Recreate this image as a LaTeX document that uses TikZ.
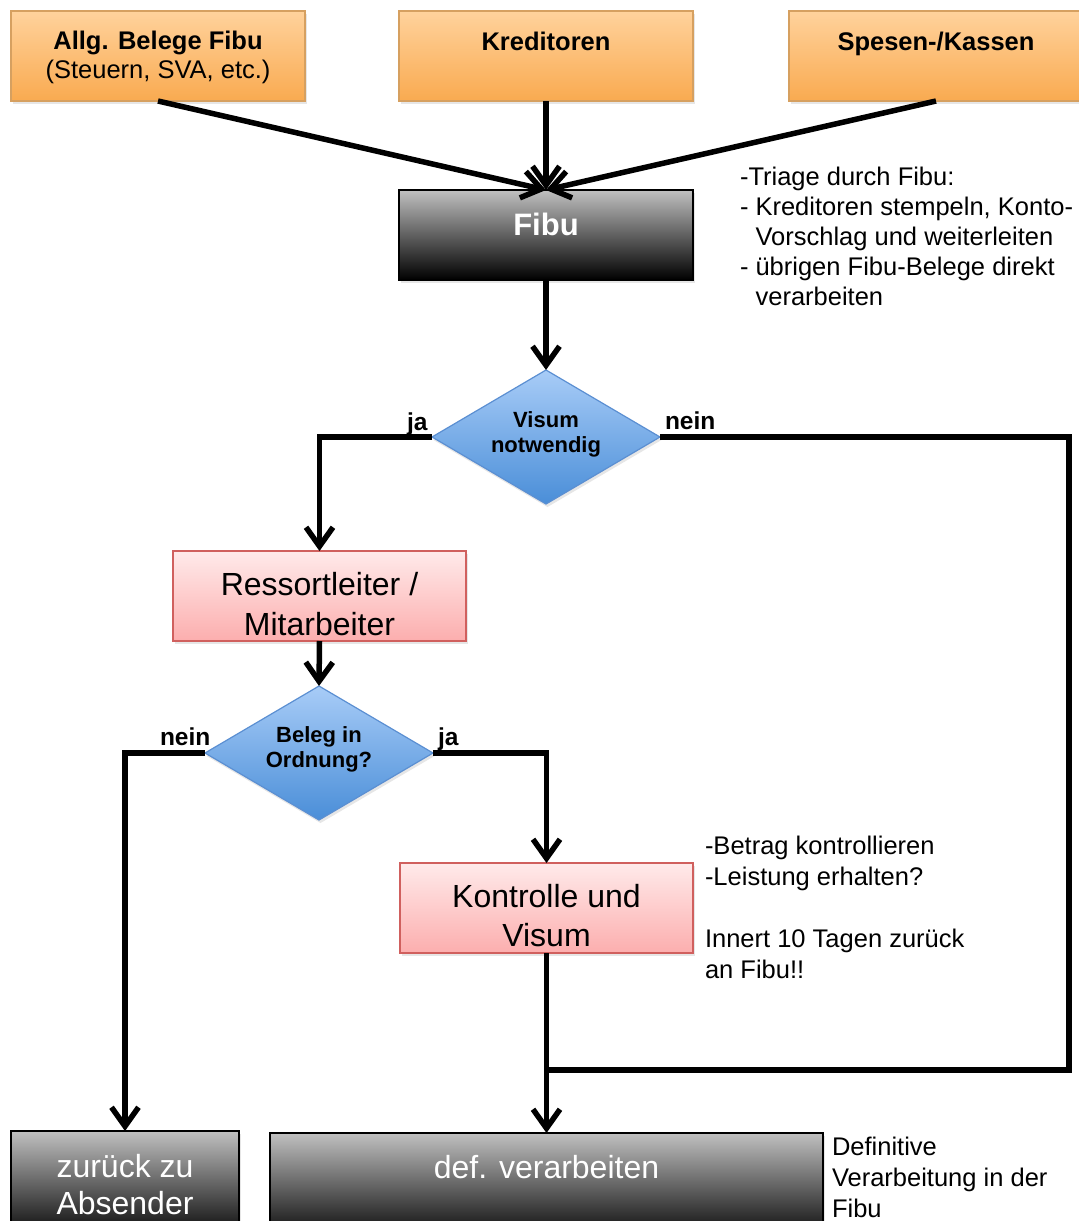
\documentclass[tikz,border=0pt]{standalone}
\usepackage{fontspec}
\setmainfont{Liberation Sans}
\usetikzlibrary{arrows.meta,shapes.geometric,shadows}
\definecolor{orT}{HTML}{FFD29C}
\definecolor{orB}{HTML}{F9AA50}
\definecolor{orD}{HTML}{D6A060}
\definecolor{pkT}{HTML}{FFEAEA}
\definecolor{pkB}{HTML}{FCAEAE}
\definecolor{pkD}{HTML}{D0605E}
\definecolor{blT}{HTML}{A8CCF7}
\definecolor{blB}{HTML}{4A8ED8}
\definecolor{blD}{HTML}{5B8FD2}
\definecolor{gyT}{HTML}{C0C0C0}
\newcommand\ftNote{\fontsize{25.5}{29}\selectfont}
\newcommand\ftDia{\fontsize{22}{25}\selectfont}
\newcommand\ftLab{\fontsize{24.5}{28}\selectfont}
\begin{document}
\begin{tikzpicture}[x=1pt,y=-1pt,
  shadowed/.style={drop shadow={shadow xshift=1.5pt,shadow yshift=-3pt,opacity=0.2}},
  basebox/.style={rectangle,inner sep=0pt,outer sep=0pt,shadowed},
  orbox/.style={basebox,top color=orT,bottom color=orB,draw=orD,line width=1.2pt,minimum width=294pt,minimum height=90pt},
  pkbox/.style={basebox,top color=pkT,bottom color=pkB,draw=pkD,line width=1.5pt,minimum width=293pt,minimum height=90pt},
  blkbox/.style={basebox,top color=gyT,bottom color=black,draw=black,line width=1.5pt},
  dia/.style={diamond,inner sep=0pt,outer sep=0pt,minimum width=228pt,minimum height=134pt,top color=blT,bottom color=blB,draw=blD,line width=1.2pt,shadowed},
  txt/.style={inner sep=0pt,outer sep=0pt,align=center},
  note/.style={inner sep=0pt,outer sep=0pt,align=left,anchor=west,font=\ftNote},
  lab/.style={inner sep=0pt,outer sep=0pt,anchor=base west,font=\ftLab\bfseries},
  ln/.style={line width=5.5pt,draw=black},
  arr/.style={ln,-{Straight Barb[length=19pt,width=27pt]}}
]
\useasboundingbox (0,0) rectangle (1079,1221);
\clip (0,0) rectangle (1079,1221);

% boxes
\node[orbox] (allg) at (158,56) {};
\node[orbox] (kred) at (546,56) {};
\node[orbox] (spes) at (936,56) {};
\node[blkbox,minimum width=294pt,minimum height=90pt] (fibu) at (546,235) {};
\node[dia] (d1) at (546,437) {};
\node[pkbox] (ress) at (319.5,596) {};
\node[dia] (d2) at (319,753) {};
\node[pkbox] (kon) at (546.5,908) {};
\node[blkbox,minimum width=228pt,minimum height=110pt] (zur) at (125,1186) {};
\node[blkbox,minimum width=553pt,minimum height=110pt] (def) at (546.5,1188) {};

% box texts
\node[txt,font=\ftNote] (allgt) at (158,57.7) {\bfseries Allg. Belege Fibu\strut\\\mdseries (Steuern, SVA, etc.)\strut};
\node[txt,font=\ftNote\bfseries] (kredt) at (546,44.2) {Kreditoren\strut};
\node[txt,font=\ftNote\bfseries] (spest) at (936,44.2) {Spesen-/Kassen\strut};
\node[txt,font=\fontsize{31}{37}\selectfont\bfseries,text=white] (fibut) at (546,227.6) {Fibu\strut};
\node[txt,font=\ftDia\bfseries] (d1t) at (546,434.5) {Visum\strut\\notwendig\strut};
\node[txt,font=\fontsize{32}{40}\selectfont] (resst) at (319.5,607) {Ressortleiter /\strut\\Mitarbeiter\strut};
\node[txt,font=\ftDia\bfseries] (d2t) at (319,749.5) {Beleg in\strut\\Ordnung?\strut};
\node[txt,font=\fontsize{32}{39}\selectfont] (kont) at (546.5,918.7) {Kontrolle und\strut\\Visum\strut};
\node[txt,font=\fontsize{32}{37}\selectfont,text=white] (zurt) at (125,1188.1) {zurück zu\strut\\Absender\strut};
\node[txt,font=\fontsize{32}{37}\selectfont,text=white] (deft) at (546.5,1170.6) {def. verarbeiten\strut};

% notes
\node[note,font=\fontsize{25.5}{30}\selectfont] (n1) at (740,239) {-Triage durch Fibu:\strut\\- Kreditoren stempeln, Konto-\strut\\\hspace*{15.6pt}Vorschlag und weiterleiten\strut\\- übrigen Fibu-Belege direkt\strut\\\hspace*{15.6pt}verarbeiten\strut};
\node[note,font=\fontsize{25.5}{30.8}\selectfont] (n2) at (705,910.4) {-Betrag kontrollieren\strut\\-Leistung erhalten?\strut\\\strut\\Innert 10 Tagen zurück\strut\\an Fibu!!\strut};
\node[note,font=\fontsize{25.5}{31}\selectfont] (n3) at (832,1179.8) {Definitive\strut\\Verarbeitung in der\strut\\Fibu\strut};

% labels
\node[lab] (l1) at (407,430) {ja};
\node[lab] (l2) at (665,429) {nein};
\node[lab] (l3) at (160,745) {nein};
\node[lab] (l4) at (438,745) {ja};

% connectors
\coordinate (c1) at (1069,437);
\coordinate (j1) at (546.5,1070);
\draw[arr] (allg.south) -- (fibu.north);
\draw[arr] (spes.south) -- (fibu.north);
\draw[arr] (kred.south) -- (fibu.north);
\draw[arr] (fibu.south) -- (d1.north);
\draw[arr] (d1.west) -| (ress.north);
\draw[ln] (d1.east) -- (c1) |- (j1);
\draw[arr] (ress.south) -- (d2.north);
\draw[arr] (d2.west) -| (zur.north);
\draw[arr] (d2.east) -| (kon.north);
\draw[arr] (kon.south) -- (def.north);
\end{tikzpicture}
\end{document}
